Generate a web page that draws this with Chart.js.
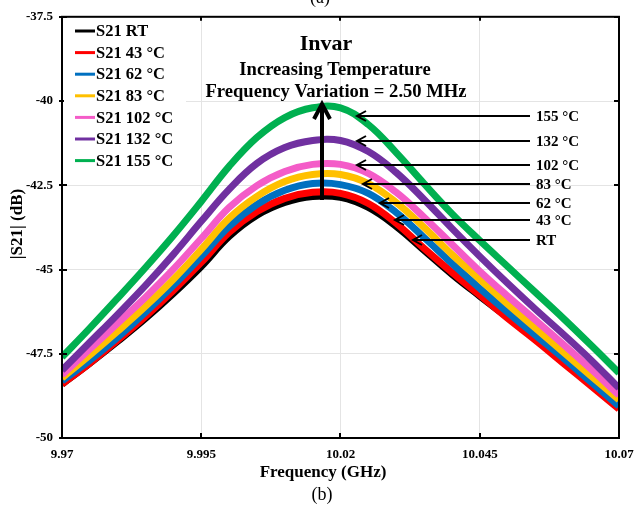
<!DOCTYPE html>
<html lang="en">
<head>
    <meta charset="UTF-8">
    <title>Invar |S21| vs temperature</title>
    <style>
        body {
            margin: 0;
            padding: 0;
            background: #fff;
        }
        #wrap {
            width: 643px;
            height: 506px;
        }
    </style>
</head>
<body>
    <div id="wrap"><canvas id="chart" width="643" height="506"></canvas></div>

    <script src="https://cdn.jsdelivr.net/npm/chart.js"></script>
    <script>
        // frequency sweep (GHz) and |S21| in dB for each temperature
        const freqGHz = [9.97, 9.975, 9.98, 9.985, 9.99, 9.995, 10.0, 10.005, 10.01, 10.015, 10.02,
                         10.025, 10.03, 10.035, 10.04, 10.045, 10.05, 10.055, 10.06, 10.065, 10.07];
        const s21RT   = [-48.40, -47.78, -47.13, -46.45, -45.71, -44.91, -44.02, -43.39, -43.01, -42.83, -42.86,
                         -43.16, -43.72, -44.43, -45.14, -45.79, -46.42, -47.04, -47.69, -48.37, -49.02];
        const s21T43  = [-48.40, -47.78, -47.10, -46.39, -45.62, -44.79, -43.90, -43.28, -42.89, -42.71, -42.74,
                         -43.04, -43.63, -44.37, -45.08, -45.76, -46.45, -47.10, -47.78, -48.46, -49.14];
        const s21T62  = [-48.31, -47.69, -47.01, -46.27, -45.47, -44.61, -43.72, -43.07, -42.65, -42.45, -42.48,
                         -42.74, -43.31, -44.05, -44.82, -45.56, -46.27, -46.95, -47.63, -48.34, -49.05];
        const s21T83  = [-48.22, -47.54, -46.83, -46.09, -45.29, -44.40, -43.48, -42.83, -42.39, -42.18, -42.18,
                         -42.45, -43.01, -43.75, -44.55, -45.29, -46.03, -46.74, -47.45, -48.16, -48.87];
        const s21T102 = [-48.13, -47.36, -46.59, -45.82, -44.99, -44.08, -43.16, -42.51, -42.09, -41.88, -41.88,
                         -42.15, -42.71, -43.45, -44.25, -45.05, -45.79, -46.50, -47.22, -47.96, -48.73];
        const s21T132 = [-47.99, -47.16, -46.33, -45.47, -44.55, -43.57, -42.62, -41.85, -41.38, -41.17, -41.17,
                         -41.50, -42.12, -42.92, -43.78, -44.61, -45.41, -46.18, -46.92, -47.69, -48.52];
        const s21T155 = [-47.60, -46.74, -45.85, -44.94, -43.99, -42.98, -41.94, -41.08, -40.49, -40.20, -40.20,
                         -40.70, -41.53, -42.45, -43.34, -44.14, -44.91, -45.68, -46.45, -47.25, -48.07];

        const seriesNames = ['S21 RT', 'S21 43 °C', 'S21 62 °C', 'S21 83 °C', 'S21 102 °C', 'S21 132 °C', 'S21 155 °C'];
        const seriesColors = ['#000000', '#ff0000', '#0070c0', '#ffc000', '#f45cc8', '#7030a0', '#00b050'];
        const seriesValues = [s21RT, s21T43, s21T62, s21T83, s21T102, s21T132, s21T155];

        const xTicks = [9.97, 9.995, 10.02, 10.045, 10.07];
        const yTicks = [-50, -47.5, -45, -42.5, -40, -37.5];

        // arrow labels on the right, pointing at each curve
        const arrowLabels = ['155 °C', '132 °C', '102 °C', '83 °C', '62 °C', '43 °C', 'RT'];

        const serif = "'Liberation Serif', 'Times New Roman', serif";
        Chart.defaults.font.family = serif;
        Chart.defaults.color = '#000';

        const datasets = seriesValues.map((vals, i) => ({
            label: seriesNames[i],
            data: vals.map((v, j) => ({ x: freqGHz[j], y: v })),
            borderColor: seriesColors[i],
            backgroundColor: seriesColors[i],
            borderWidth: 7,
            pointRadius: 0,
            tension: 0.4,
            fill: false,
            order: seriesValues.length - i
        }));

        function line(ctx, x1, y1, x2, y2) {
            ctx.beginPath();
            ctx.moveTo(x1, y1);
            ctx.lineTo(x2, y2);
            ctx.stroke();
        }

        function arrowLeft(ctx, x1, x2, y) {
            line(ctx, x1, y, x2, y);
            ctx.beginPath();
            ctx.moveTo(x2 + 9, y - 5);
            ctx.lineTo(x2, y);
            ctx.lineTo(x2 + 9, y + 5);
            ctx.stroke();
        }

        const overlay = {
            id: 'overlay',
            afterDatasetsDraw(chart) {
                const { ctx, chartArea: a, scales } = chart;
                const xs = scales.x, ys = scales.y;
                ctx.save();

                // frame and inward ticks
                ctx.strokeStyle = '#000';
                ctx.lineWidth = 2;
                ctx.strokeRect(a.left, a.top, a.right - a.left, a.bottom - a.top);
                xTicks.forEach(v => {
                    const px = Math.round(xs.getPixelForValue(v));
                    line(ctx, px, a.bottom, px, a.bottom - 5);
                    line(ctx, px, a.top, px, a.top + 4);
                });
                yTicks.forEach(v => {
                    const py = Math.round(ys.getPixelForValue(v));
                    line(ctx, a.left - 3, py, a.left + 5, py);
                    line(ctx, a.right, py, a.right - 5, py);
                });

                // legend box
                ctx.fillStyle = '#fff';
                ctx.fillRect(a.left + 2, a.top + 2, 122, 158);
                ctx.font = 'bold 16.5px ' + serif;
                ctx.textBaseline = 'middle';
                ctx.textAlign = 'left';
                seriesNames.forEach((name, i) => {
                    const yy = 31 + i * 21.6;
                    ctx.strokeStyle = seriesColors[i];
                    ctx.lineWidth = 3;
                    line(ctx, 75, yy, 95, yy);
                    ctx.fillStyle = '#000';
                    ctx.fillText(name, 96, yy + 1);
                });

                // headings
                ctx.textAlign = 'center';
                ctx.fillStyle = '#000';
                ctx.font = 'bold 22px ' + serif;
                ctx.fillText('Invar', 326, 44);
                ctx.font = 'bold 18.6px ' + serif;
                ctx.fillText('Increasing Temperature', 335, 70);
                ctx.fillText('Frequency Variation = 2.50 MHz', 336, 92);

                // vertical arrow through the peaks
                ctx.strokeStyle = '#000';
                ctx.lineWidth = 4;
                line(ctx, 322, 200, 322, 104);
                ctx.beginPath();
                ctx.moveTo(314, 119);
                ctx.lineTo(322, 104);
                ctx.lineTo(330, 119);
                ctx.stroke();

                // labelled arrows
                const tipX = [357, 357, 357, 363, 380, 395, 413];
                const rowY = [116, 141, 165, 184, 203, 220, 240];
                ctx.lineWidth = 2;
                ctx.textAlign = 'left';
                ctx.font = 'bold 15px ' + serif;
                arrowLabels.forEach((txt, i) => {
                    arrowLeft(ctx, 530, tipX[i], rowY[i]);
                    ctx.fillText(txt, 536, rowY[i] + 1);
                });

                // axis titles and captions
                ctx.textAlign = 'center';
                ctx.font = 'bold 17px ' + serif;
                ctx.fillText('Frequency (GHz)', 323, 473);
                ctx.save();
                ctx.translate(18, 224);
                ctx.rotate(-Math.PI / 2);
                ctx.fillText('|S21| (dB)', 0, 0);
                ctx.restore();
                ctx.font = '18px ' + serif;
                ctx.fillText('(b)', 322, 495);
                ctx.fillText('(a)', 320, -2);

                ctx.restore();
            }
        };

        new Chart(document.getElementById('chart'), {
            type: 'line',
            data: { datasets: datasets },
            options: {
                responsive: false,
                animation: false,
                layout: { padding: { left: 0, right: 24, top: 16, bottom: 0 } },
                plugins: {
                    legend: { display: false },
                    tooltip: { enabled: false }
                },
                scales: {
                    x: {
                        type: 'linear',
                        min: 9.97,
                        max: 10.07,
                        afterBuildTicks: axis => { axis.ticks = xTicks.map(v => ({ value: v })); },
                        afterFit: axis => { axis.height = 68; },
                        grid: { color: '#e4e4e4', lineWidth: 1, drawTicks: false },
                        border: { display: false },
                        ticks: {
                            padding: 9,
                            maxRotation: 0,
                            font: { size: 13, weight: 'bold' },
                            callback: v => String(v)
                        }
                    },
                    y: {
                        type: 'linear',
                        min: -50,
                        max: -37.5,
                        afterBuildTicks: axis => { axis.ticks = yTicks.map(v => ({ value: v })); },
                        afterFit: axis => { axis.width = 62; },
                        grid: { color: '#e4e4e4', lineWidth: 1, drawTicks: false },
                        border: { display: false },
                        ticks: {
                            padding: 9,
                            font: { size: 13, weight: 'bold' },
                            callback: v => String(v)
                        }
                    }
                }
            },
            plugins: [overlay]
        });
    </script>
</body>
</html>
